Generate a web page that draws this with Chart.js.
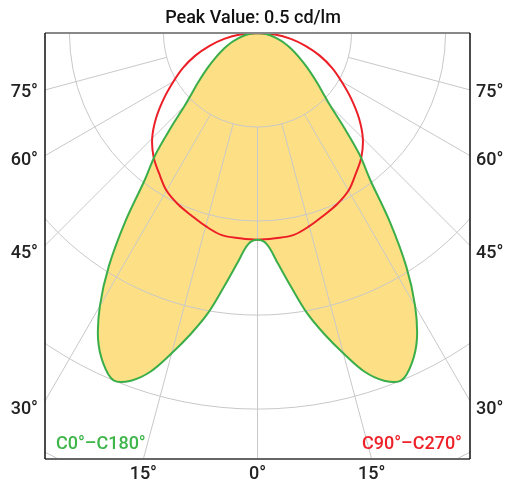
<!DOCTYPE html>
<html>
<head>
<meta charset="utf-8">
<script src="https://cdn.jsdelivr.net/npm/chart.js@4.4.0/dist/chart.umd.min.js"></script>
<style>
  html, body { margin: 0; padding: 0; background: #fff; }
  canvas { display: block; }
</style>
</head>
<body>
<canvas id="polar" width="506" height="485"></canvas>
<script>
// angles from nadir (deg) and intensities (cd/lm)
const greenAngles = [0, 2.5, 5, 7.5, 10, 12.5, 15, 17.5, 20, 22.5, 25, 27.5, 30, 32.5, 35, 37.5, 40, 42.5, 45, 47.5, 50, 55, 60, 65, 70, 75, 80, 85, 90];
const c0c180 = [0.275, 0.281, 0.307, 0.340, 0.378, 0.410, 0.441, 0.472, 0.492, 0.500, 0.485, 0.459, 0.419, 0.368, 0.307, 0.246, 0.211, 0.170, 0.137, 0.118, 0.104, 0.081, 0.063, 0.049, 0.037, 0.026, 0.017, 0.008, 0];

const redAngles = [0, 5, 10, 15, 20, 25, 30, 35, 40, 45, 50, 55, 60, 65, 70, 75, 80, 85, 90];
const c90c270 = [0.275, 0.274, 0.273, 0.266, 0.258, 0.251, 0.242, 0.228, 0.215, 0.198, 0.176, 0.152, 0.129, 0.109, 0.088, 0.066, 0.045, 0.023, 0];

// grid
const ringValues = [0.125, 0.25, 0.375, 0.5, 0.625];
const spokeAngles = [-90, -75, -60, -45, -30, -15, 0, 15, 30, 45, 60, 75, 90];

// axis labels
const sideTickValues = [-0.079, -0.169, -0.293, -0.501];
const sideLabels = ["75°", "60°", "45°", "30°"];
const bottomAngles = [-15, 0, 15];
const bottomLabels = ["15°", "0°", "15°"];

const xMax = 0.2825;
const yMin = -0.5665;

const peakText = "Peak Value: 0.5 cd/lm";
const greenName = "C0°–C180°";
const redName = "C90°–C270°";

const deg = Math.PI / 180;

// left half (C180 / C270) from 90 down to 0, then right half (C0 / C90) back up to 90
function toPoints(angles, values) {
  var pts = [];
  for (var i = angles.length - 1; i >= 0; i--) {
    pts.push({ x: -values[i] * Math.sin(angles[i] * deg), y: -values[i] * Math.cos(angles[i] * deg) });
  }
  for (var j = 1; j < angles.length; j++) {
    pts.push({ x: values[j] * Math.sin(angles[j] * deg), y: -values[j] * Math.cos(angles[j] * deg) });
  }
  return pts;
}

const polarGrid = {
  id: "polarGrid",
  beforeDatasetsDraw(chart) {
    const ctx = chart.ctx;
    const a = chart.chartArea;
    const x = chart.scales.x;
    const y = chart.scales.y;
    const cx = x.getPixelForValue(0);
    const cy = y.getPixelForValue(0);
    const unit = x.getPixelForValue(1) - cx;
    ctx.save();
    ctx.beginPath();
    ctx.rect(a.left, a.top, a.width, a.height);
    ctx.clip();
    ctx.strokeStyle = "#c8c8c8";
    ctx.lineWidth = 1;
    ringValues.forEach((r) => {
      ctx.beginPath();
      ctx.arc(cx, cy, r * unit, 0, Math.PI);
      ctx.stroke();
    });
    const r0 = ringValues[0] * unit;
    const r1 = 2 * ringValues[ringValues.length - 1] * unit;
    spokeAngles.forEach((d) => {
      const s = Math.sin(d * deg), c = Math.cos(d * deg);
      ctx.beginPath();
      ctx.moveTo(cx + r0 * s, cy + r0 * c);
      ctx.lineTo(cx + r1 * s, cy + r1 * c);
      ctx.stroke();
    });
    ctx.restore();
  },
  afterDatasetsDraw(chart) {
    const ctx = chart.ctx;
    const a = chart.chartArea;
    ctx.save();
    // frame
    ctx.strokeStyle = "#888";
    ctx.lineWidth = 2;
    ctx.beginPath();
    ctx.moveTo(a.left, a.top);
    ctx.lineTo(a.right, a.top);
    ctx.stroke();
    ctx.strokeStyle = "#666";
    ctx.beginPath();
    ctx.moveTo(a.left, a.bottom);
    ctx.lineTo(a.right, a.bottom);
    ctx.stroke();
    ctx.strokeStyle = "#111";
    ctx.lineWidth = 1.5;
    ctx.beginPath();
    ctx.moveTo(a.left, a.top);
    ctx.lineTo(a.left, a.bottom);
    ctx.moveTo(a.right, a.top);
    ctx.lineTo(a.right, a.bottom);
    ctx.stroke();
    // curve names
    ctx.font = "500 18px Roboto";
    ctx.textBaseline = "alphabetic";
    ctx.fillStyle = "#3db549";
    ctx.textAlign = "left";
    ctx.fillText(greenName, a.left + 11, a.bottom - 10);
    ctx.fillStyle = "#ee2129";
    ctx.textAlign = "right";
    ctx.fillText(redName, a.right - 8, a.bottom - 10);
    ctx.restore();
  },
};

const labelFont = { family: "Roboto", size: 18, weight: "500" };

const sideAxis = {
  type: "linear",
  min: yMin,
  max: 0,
  afterBuildTicks: (axis) => {
    axis.ticks = sideTickValues.map((v) => ({ value: v }));
  },
  grid: { display: false, drawTicks: false },
  border: { display: false },
};

const config = {
  type: "scatter",
  data: {
    datasets: [
      {
        label: greenName,
        data: toPoints(greenAngles, c0c180),
        showLine: true,
        tension: 0.35,
        borderColor: "#3aae48",
        borderWidth: 2,
        backgroundColor: "#fde086",
        fill: "shape",
        pointRadius: 0,
      },
      {
        label: redName,
        data: toPoints(redAngles, c90c270),
        showLine: true,
        tension: 0.35,
        borderColor: "#ec1f27",
        borderWidth: 2,
        fill: false,
        pointRadius: 0,
      },
    ],
  },
  options: {
    responsive: false,
    animation: false,
    layout: { padding: 0 },
    plugins: {
      legend: { display: false },
      tooltip: { enabled: false },
      filler: { drawTime: "beforeDatasetsDraw" },
      title: {
        display: true,
        text: peakText,
        color: "#111",
        font: { family: "Roboto", size: 18, weight: "500" },
        padding: { top: 8, bottom: 3.4 },
      },
    },
    scales: {
      x: {
        type: "linear",
        min: -xMax,
        max: xMax,
        afterBuildTicks: (axis) => {
          axis.ticks = bottomAngles.map((d) => ({ value: -yMin * Math.tan(d * deg) }));
        },
        afterFit: (axis) => { axis.height = 26; },
        ticks: {
          autoSkip: false,
          maxRotation: 0,
          padding: 5,
          color: "#222",
          font: labelFont,
          callback: (v, i) => bottomLabels[i],
        },
        grid: { display: false, drawTicks: false },
        border: { display: false },
      },
      y: Object.assign({}, sideAxis, {
        position: "left",
        afterFit: (axis) => { axis.width = 45; },
        ticks: {
          autoSkip: false,
          padding: 7,
          color: "#222",
          font: labelFont,
          callback: (v, i) => sideLabels[i],
        },
      }),
      y2: Object.assign({}, sideAxis, {
        position: "right",
        afterFit: (axis) => { axis.width = 36; },
        ticks: {
          autoSkip: false,
          padding: 6,
          color: "#222",
          font: labelFont,
          callback: (v, i) => sideLabels[i],
        },
      }),
    },
  },
  plugins: [polarGrid],
};

new Chart(document.getElementById("polar"), config);
</script>
</body>
</html>
